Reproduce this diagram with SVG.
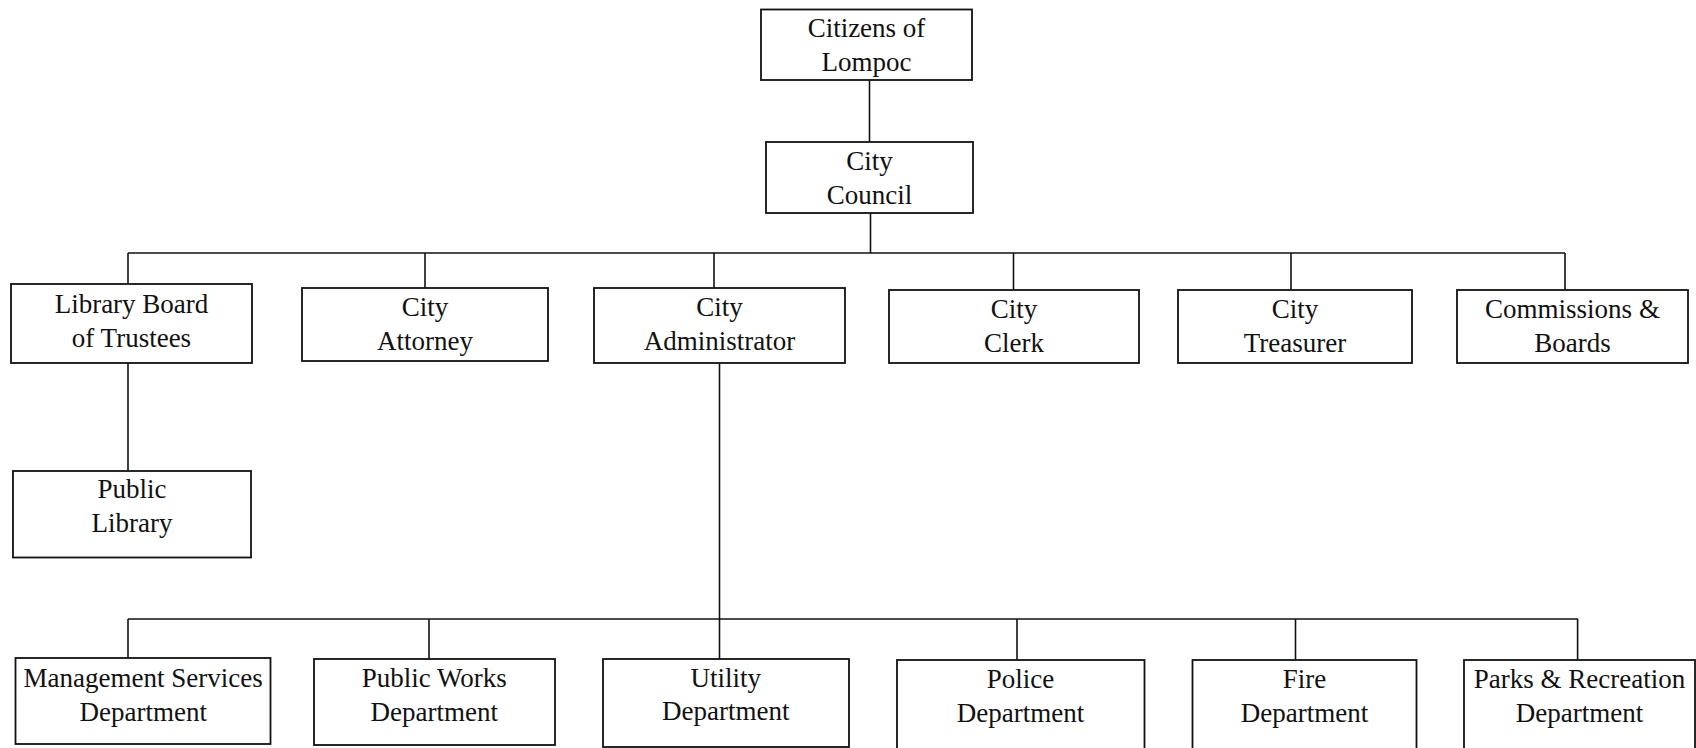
<svg xmlns="http://www.w3.org/2000/svg" width="1696" height="748" viewBox="0 0 1696 748">
<style>
.box{fill:#fff;stroke:#111;stroke-width:1.8}
.ln{stroke:#111;stroke-width:1.6;fill:none}
text{font-family:"Liberation Serif","Times New Roman",serif;font-size:27px;fill:#111;text-anchor:middle}
</style>
<rect width="1696" height="748" fill="#fff"/>
<g id="connectors">
<line class="ln" x1="869.5" y1="80" x2="869.5" y2="142"/>
<line class="ln" x1="870.5" y1="213" x2="870.5" y2="253"/>
<line class="ln" x1="128" y1="253" x2="1565" y2="253"/>
<line class="ln" x1="128" y1="253" x2="128" y2="284"/>
<line class="ln" x1="425" y1="253" x2="425" y2="288"/>
<line class="ln" x1="714" y1="253" x2="714" y2="288"/>
<line class="ln" x1="1013.5" y1="253" x2="1013.5" y2="290"/>
<line class="ln" x1="1291" y1="253" x2="1291" y2="290"/>
<line class="ln" x1="1565" y1="253" x2="1565" y2="290"/>
<line class="ln" x1="128" y1="363" x2="128" y2="471"/>
<line class="ln" x1="719.5" y1="363" x2="719.5" y2="619"/>
<line class="ln" x1="128" y1="619" x2="1578" y2="619"/>
<line class="ln" x1="128" y1="619" x2="128" y2="658"/>
<line class="ln" x1="429" y1="619" x2="429" y2="659"/>
<line class="ln" x1="719.5" y1="619" x2="719.5" y2="659"/>
<line class="ln" x1="1017" y1="619" x2="1017" y2="660"/>
<line class="ln" x1="1295.5" y1="619" x2="1295.5" y2="660"/>
<line class="ln" x1="1577.6" y1="619" x2="1577.6" y2="660"/>
</g>
<g id="citizens"><rect class="box" x="761" y="9.5" width="211" height="70.5"/><text x="866.5" y="37">Citizens of</text><text x="866.5" y="71">Lompoc</text></g>
<g id="council"><rect class="box" x="766" y="142" width="207" height="71"/><text x="869.5" y="170">City</text><text x="869.5" y="203.5">Council</text></g>
<g id="library-board"><rect class="box" x="11" y="284" width="241" height="79"/><text x="131.5" y="313">Library Board</text><text x="131.5" y="347">of Trustees</text></g>
<g id="attorney"><rect class="box" x="302" y="288" width="246" height="73"/><text x="425" y="316">City</text><text x="425" y="350">Attorney</text></g>
<g id="administrator"><rect class="box" x="594" y="288" width="251" height="75"/><text x="719.5" y="316">City</text><text x="719.5" y="350">Administrator</text></g>
<g id="clerk"><rect class="box" x="889" y="290" width="250" height="73"/><text x="1014" y="318">City</text><text x="1014" y="352">Clerk</text></g>
<g id="treasurer"><rect class="box" x="1178" y="290" width="234" height="73"/><text x="1295" y="318">City</text><text x="1295" y="352">Treasurer</text></g>
<g id="commissions"><rect class="box" x="1457" y="290" width="231" height="73"/><text x="1572.5" y="318">Commissions &amp;</text><text x="1572.5" y="352">Boards</text></g>
<g id="public-library"><rect class="box" x="13" y="471" width="238" height="86.5"/><text x="132" y="498">Public</text><text x="132" y="532">Library</text></g>
<g id="management"><rect class="box" x="15.5" y="658" width="255" height="86"/><text x="143.2" y="686.5">Management Services</text><text x="143.2" y="720.5">Department</text></g>
<g id="public-works"><rect class="box" x="314" y="659" width="241" height="86"/><text x="434.3" y="687">Public Works</text><text x="434.3" y="721">Department</text></g>
<g id="utility"><rect class="box" x="603" y="659" width="246" height="88"/><text x="725.8" y="687">Utility</text><text x="725.8" y="720">Department</text></g>
<g id="police"><rect class="box" x="897" y="660" width="247.5" height="100"/><text x="1020.5" y="688">Police</text><text x="1020.5" y="722">Department</text></g>
<g id="fire"><rect class="box" x="1192.5" y="660" width="224" height="100"/><text x="1304.5" y="688">Fire</text><text x="1304.5" y="722">Department</text></g>
<g id="parks"><rect class="box" x="1464" y="660" width="231" height="100"/><text x="1579.5" y="688">Parks &amp; Recreation</text><text x="1579.5" y="722">Department</text></g>
</svg>
